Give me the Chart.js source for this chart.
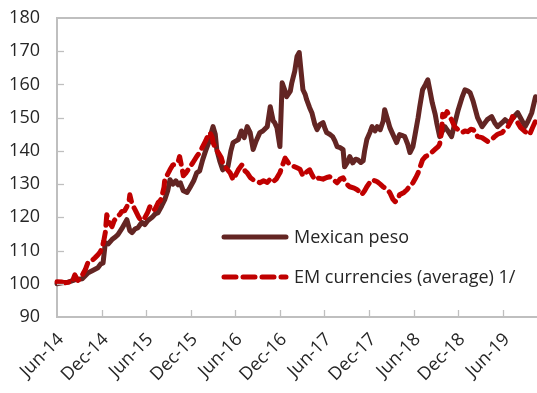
<!DOCTYPE html>
<html>
<head>
<meta charset="utf-8">
<script src="https://cdn.jsdelivr.net/npm/chart.js@4/dist/chart.umd.min.js"></script>
<style>
html,body{margin:0;padding:0;background:#fff;}
#wrap{width:537px;height:393px;position:relative;}
</style>
</head>
<body>
<div id="wrap"><canvas id="c" width="537" height="393"></canvas></div>
<script>
// x = months since June 2014
const tickLabels = ["Jun-14","Dec-14","Jun-15","Dec-15","Jun-16","Dec-16","Jun-17","Dec-17","Jun-18","Dec-18","Jun-19"];
const seriesNames = ["Mexican peso","EM currencies (average) 1/"];

const pesoMonths = [0.0,0.7,1.5,2.4,3.4,4.2,4.8,5.5,5.9,6.2,6.5,6.9,7.4,7.8,8.2,8.7,9.4,9.8,10.1,10.5,10.9,11.4,11.8,12.2,12.8,13.2,13.6,14.1,14.5,14.9,15.2,15.6,16.0,16.3,16.6,17.0,17.5,17.9,18.4,18.8,19.2,19.6,20.0,20.5,20.7,21.0,21.3,21.5,21.9,22.3,22.7,23.0,23.4,23.7,24.1,24.4,24.8,25.2,25.6,26.0,26.4,26.8,27.3,27.7,28.3,28.7,29.1,29.3,29.6,30.0,30.3,30.7,30.9,31.4,31.6,32.0,32.3,32.6,32.8,33.1,33.4,33.6,34.0,34.3,34.7,35.0,35.4,35.8,36.1,36.3,36.7,37.1,37.4,37.7,38.1,38.5,38.7,39.2,39.4,39.8,40.2,40.5,40.9,41.2,41.4,41.7,42.1,42.4,42.8,43.1,43.5,43.9,44.1,44.5,44.8,45.1,45.5,45.7,46.1,46.6,46.8,47.2,47.5,47.9,48.2,48.6,48.8,49.2,49.6,49.9,50.2,50.5,50.9,51.1,51.5,51.9,52.2,52.6,53.1,53.5,54.0,54.5,54.9,55.3,55.6,56.0,56.2,56.6,57.2,57.6,57.9,58.3,58.5,58.9,59.3,59.9,60.3,60.8,61.2,61.6,62.0,62.6,63.0,63.4,63.9,64.4];
const pesoValues = [100,100.3,100.5,101.2,101.5,103.3,104,104.8,106,106.3,112.3,112,113.3,114,114.8,116.5,119.3,116,115.4,116.5,116.9,118.5,117.8,119,120,121,121.4,123.5,125.3,128,131.3,130,131,129.8,130.4,128,127.5,129,131,133.4,134,137.3,140,143,145,147.3,145,140.4,137,134.3,135,135.2,140,142.5,143,143.4,146,144,147.3,145.5,140.4,143,145.5,146,147.3,153.3,149,148.5,147,141.3,160.5,158,156.3,158,160.5,164,168.4,169.6,165,158.4,157,155.4,153,151.5,148,146.4,148,148.5,146.5,145.5,145,144.3,143,141.3,141,140.4,135.2,137,138.3,136.4,137.5,137.3,136.5,137,140,143.4,145.5,147.3,146,147.3,146.4,149,152.4,149.4,147,145.5,143.5,142.5,144.9,144.5,144.3,142,139.5,141.3,145,150,153,158.4,160,161.4,158,154.5,151,148.5,144.3,146,147.3,146,144.3,148,152.4,156,158.4,158,157.5,155,153.3,150,147.3,148.5,149.4,150,150.3,148.5,147.3,148.5,149.4,148.5,149.4,150.5,151.5,149,147.3,149,151.5,156.3];

const emMonths = [0.0,0.7,1.1,1.6,2.0,2.4,2.8,3.1,3.5,3.8,4.2,4.7,5.1,5.5,5.8,6.1,6.3,6.5,6.7,7.0,7.4,7.7,8.1,8.5,8.7,9.1,9.4,9.7,9.8,10.1,10.5,10.9,11.2,11.6,11.8,12.2,12.5,12.9,13.2,13.6,13.9,14.1,14.4,14.5,14.9,15.2,15.6,16.0,16.3,16.5,16.8,17.0,17.4,17.9,18.3,18.8,19.2,19.6,20.0,20.3,20.6,20.9,21.0,21.4,21.7,22.1,22.3,22.7,23.3,23.7,24.1,24.4,24.9,25.3,25.6,26.0,26.4,26.8,27.3,27.8,28.3,28.7,29.1,29.5,30.0,30.4,30.7,31.1,31.3,31.7,32.3,32.7,33.1,33.5,34.0,34.4,34.7,35.2,35.8,36.3,36.7,37.1,37.7,38.1,38.5,39.0,39.4,40.0,40.4,40.8,41.0,41.4,41.7,42.1,42.4,42.8,43.1,43.5,43.9,44.4,44.8,45.2,45.5,45.9,46.1,46.7,47.1,47.5,47.9,48.3,48.6,49.0,49.2,49.6,50.2,50.4,50.9,51.3,51.5,51.8,51.9,52.2,52.5,52.9,53.1,53.5,53.9,54.5,54.9,55.3,55.7,56.0,56.4,56.6,57.2,57.6,58.0,58.5,58.9,59.3,59.9,60.3,60.7,61.1,61.3,61.7,62.0,62.4,63.0,63.4,63.6,64.0,64.3,64.6];
const emValues = [100.6,100.5,100.3,100.5,100.3,102.7,101,101.5,103,104.2,106.6,107,107.8,108.7,109.5,111.1,113,115.4,120.8,118.5,117.2,119,120.2,121,121.7,122,123.2,125,126.8,124,122.3,120.5,119.3,120,119.8,121.5,123.2,122,122.5,124.4,125,126.2,129,131.3,133,134.3,135.8,136,136.7,138.3,135,132.5,133.5,135.2,136.5,138.3,139.5,141.3,143,144.5,145.5,144,142.5,140.5,139.5,138,136.4,135,133.4,131.3,133,134.3,135.8,134,133.4,132,131.3,131,130.4,131,130.5,131.5,130.7,131.5,133.4,136,137.8,136.5,135.8,135.5,134.9,134.5,132.5,133.5,134.3,132.5,131.3,131.8,131.5,132,132.2,131.5,130.4,131.5,131.9,130,129.2,128.8,128.3,127.5,126.8,128,129.2,130.5,131.3,131,130.7,130,129.2,128.5,127.4,125.5,124.7,125.5,126.8,127.5,128.3,129.5,130.4,132,133.4,136,137.3,138.3,139,139.5,140.5,141.3,142,146.4,151,150.5,151.8,150,149.4,147.3,146.5,145.5,146,145.8,146.5,146.4,145.5,144.3,144,143.4,142.8,143.5,144.3,145,145.5,146.5,147.3,149,150.3,149,148.5,147,145.8,145,144.9,147,148.5,150];

const yMin = 90, yMax = 180, yStep = 10, xStep = 6, xMax = 64.6;

const toXY = (xs, ys) => xs.map((x, i) => ({x: x, y: ys[i]}));

const AXIS = '#BFBFBF';
const TXT = '#262626';
const FONT = '"Open Sans", sans-serif';

const frame = {
  id: 'frame',
  afterDatasetsDraw(chart) {
    const {ctx, chartArea: a, scales} = chart;
    ctx.save();
    ctx.strokeStyle = AXIS;
    ctx.lineWidth = 2;
    ctx.beginPath();
    ctx.moveTo(a.left, a.top); ctx.lineTo(a.right, a.top);
    ctx.stroke();
    ctx.lineWidth = 1.3;
    scales.y.ticks.forEach(t => {
      if (t.value === yMin || t.value === yMax) return;
      const py = Math.round(scales.y.getPixelForValue(t.value)) + 0.5;
      ctx.beginPath(); ctx.moveTo(a.left, py); ctx.lineTo(a.left + 7, py); ctx.stroke();
    });
    scales.x.ticks.forEach(t => {
      if (t.value === 0) return;
      const px = Math.round(scales.x.getPixelForValue(t.value)) + 0.5;
      ctx.beginPath(); ctx.moveTo(px, a.bottom); ctx.lineTo(px, a.bottom - 7); ctx.stroke();
    });
    ctx.restore();
  },
  afterDraw(chart) {
    const {ctx, chartArea: a} = chart;
    const order = [1, 0];
    ctx.save();
    ctx.font = '18px ' + FONT;
    ctx.textBaseline = 'middle';
    ctx.fillStyle = TXT;
    order.forEach((di, k) => {
      const ds = chart.data.datasets[di];
      const y = a.top + 219 + k * 40;
      const x0 = a.left + 167;
      ctx.strokeStyle = ds.borderColor;
      ctx.lineWidth = ds.borderWidth;
      ctx.lineCap = 'round';
      ctx.setLineDash(ds.borderDash || []);
      ctx.beginPath(); ctx.moveTo(x0, y); ctx.lineTo(x0 + 62, y); ctx.stroke();
      ctx.setLineDash([]);
      ctx.fillText(ds.label, x0 + 70, y + 1);
    });
    ctx.restore();
  }
};

new Chart(document.getElementById('c'), {
  type: 'line',
  data: {
    datasets: [
      {label: seriesNames[1], data: toXY(emMonths, emValues), borderColor: '#C00000', borderWidth: 5,
       borderDash: [12, 7], borderCapStyle: 'round', borderJoinStyle: 'round', pointRadius: 0, order: 0},
      {label: seriesNames[0], data: toXY(pesoMonths, pesoValues), borderColor: '#632523', borderWidth: 5,
       borderCapStyle: 'round', borderJoinStyle: 'round', pointRadius: 0, order: 1}
    ]
  },
  options: {
    responsive: false,
    animation: false,
    clip: false,
    layout: {padding: {top: 18, right: 0, left: 0, bottom: 0}},
    plugins: {legend: {display: false}, tooltip: {enabled: false}},
    scales: {
      x: {
        type: 'linear', min: 0, max: xMax,
        afterFit: s => { s.height = 76; },
        grid: {display: false},
        border: {display: true, color: AXIS, width: 2},
        ticks: {
          stepSize: xStep, includeBounds: false, autoSkip: false,
          maxRotation: 45, minRotation: 45, padding: 4, labelOffset: 4,
          color: TXT, font: {family: FONT, size: 18},
          callback: v => tickLabels[Math.round(v / xStep)] || ''
        }
      },
      y: {
        min: yMin, max: yMax,
        afterFit: s => { s.width = 57; s.paddingTop = 0; s.paddingBottom = 0; },
        grid: {display: false, drawTicks: false},
        border: {display: true, color: AXIS, width: 2},
        ticks: {stepSize: yStep, padding: 17, color: TXT, font: {family: FONT, size: 18}}
      }
    }
  },
  plugins: [frame]
});
</script>
</body>
</html>
